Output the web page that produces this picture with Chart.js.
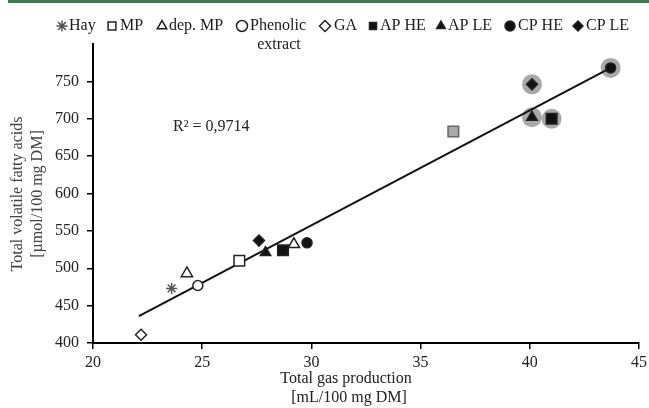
<!DOCTYPE html>
<html>
<head>
<meta charset="utf-8">
<script src="https://cdn.jsdelivr.net/npm/chart.js@4.4.1/dist/chart.umd.min.js"></script>
<style>
  html, body { margin: 0; padding: 0; background: #fff; }
  #wrap { width: 649px; height: 408px; }
</style>
</head>
<body>
<div id="wrap"><canvas id="chartVfa" width="649" height="408"></canvas></div>
<script>
// series
const seriesNames = ['Hay', 'MP', 'dep. MP', 'Phenolic extract', 'GA', 'AP HE', 'AP LE', 'CP HE', 'CP LE'];
const gasProd = [[23.6], [26.7, 36.5], [24.3, 29.2], [24.8], [22.2], [28.7, 41.0], [27.9, 40.1], [29.8, 43.7], [27.6, 40.1]];
const vfa = [[473], [510, 683], [493, 532], [477], [411], [524, 700], [521, 702], [534, 768], [537, 746]];
const glow = [[0], [0, 2], [0, 0], [0], [0], [0, 1], [0, 1], [0, 1], [0, 1]]; // 1 = grey halo, 2 = grey marker
const trendX = [22.1, 43.7];
const trendY = [436, 768];
const xTicks = [20, 25, 30, 35, 40, 45];
const yTicks = [400, 450, 500, 550, 600, 650, 700, 750];
const r2Text = 'R² = 0,9714';

const FONT = '"Liberation Serif", "DejaVu Serif", serif';

// marker look per series
const markerStyle = ['star', 'rect', 'triangle', 'circle', 'rectRot', 'rect', 'triangle', 'circle', 'rectRot'];
const markerFilled = [false, false, false, false, false, true, true, true, true];
const markerRadius = [5.5, 7.5, 6.5, 5, 5.5, 7.5, 6, 5, 5.5];

const datasets = [];

seriesNames.forEach((name, i) => {
  const pts = gasProd[i].map((x, k) => ({ x: x, y: vfa[i][k] }));
  const fill = gasProd[i].map((x, k) => glow[i][k] == 2 ? '#a8a8a8' : (markerFilled[i] ? '#111' : '#fff'));
  const border = gasProd[i].map((x, k) => glow[i][k] == 2 ? '#666' : (i == 0 ? '#555' : '#222'));
  datasets.push({
    type: 'scatter',
    label: name,
    data: pts,
    pointStyle: markerStyle[i],
    pointRadius: markerRadius[i],
    pointBackgroundColor: fill,
    pointBorderColor: border,
    pointBorderWidth: 1.5,
    order: 1
  });
});

// grey halos behind the highlighted points
const haloPts = [];
seriesNames.forEach((name, i) => {
  gasProd[i].forEach((x, k) => {
    if (glow[i][k] == 1) haloPts.push({ x: x, y: vfa[i][k] });
  });
});
datasets.push({
  type: 'scatter',
  label: 'halo',
  data: haloPts,
  pointStyle: 'circle',
  pointRadius: 10,
  pointBorderWidth: 0,
  pointBackgroundColor: 'rgba(140,140,140,0.75)',
  order: 3
});

datasets.push({
  type: 'line',
  label: 'trend',
  data: trendX.map((x, k) => ({ x: x, y: trendY[k] })),
  borderColor: '#111',
  borderWidth: 2,
  pointRadius: 0,
  fill: false,
  order: 2
});

// legend, axis titles, R² and the green rule at the top
const decorations = {
  id: 'decorations',
  afterDraw(chart) {
    const ctx = chart.ctx;
    ctx.save();

    ctx.fillStyle = '#3b7d50';
    ctx.fillRect(8, 0, 641, 3);

    // legend
    const legendPos = [[62, 69], [112, 120], [162, 169], [242, 249], [325, 334], [373, 380], [441, 448], [510, 518], [578, 586]];
    const ly = 26;
    ctx.font = '16px ' + FONT;
    ctx.textBaseline = 'middle';
    seriesNames.forEach((name, i) => {
      const [mx, tx] = legendPos[i];
      ctx.fillStyle = markerFilled[i] ? '#111' : '#fff';
      ctx.strokeStyle = i == 0 ? '#555' : '#222';
      ctx.lineWidth = 1.5;
      Chart.helpers.drawPoint(ctx, { pointStyle: markerStyle[i], radius: markerFilled[i] ? 5 : 5.5, rotation: 0, borderWidth: 1.5 }, mx, ly);
      ctx.fillStyle = '#1a1a1a';
      if (name == 'Phenolic extract') {
        ctx.textAlign = 'center';
        ctx.fillText('Phenolic', 278, ly);
        ctx.fillText('extract', 279, ly + 19);
      } else {
        ctx.textAlign = 'left';
        ctx.fillText(name, tx, ly);
      }
    });

    // R²
    ctx.textAlign = 'left';
    ctx.fillStyle = '#222';
    ctx.fillText(r2Text, 173, 127);

    // x title
    ctx.textAlign = 'center';
    ctx.fillStyle = '#222';
    ctx.fillText('Total gas production', 346, 379);
    ctx.fillText('[mL/100 mg DM]', 349, 398);

    // y title
    ctx.translate(0, 194);
    ctx.rotate(-Math.PI / 2);
    ctx.fillStyle = '#444';
    ctx.fillText('Total volatile fatty acids', 0, 18);
    ctx.fillText('[µmol/100 mg DM]', 0, 38);

    ctx.restore();
  }
};

new Chart('chartVfa', {
  data: { datasets: datasets },
  options: {
    responsive: false,
    animation: false,
    layout: { padding: { top: 44, right: 0, left: 0, bottom: 0 } },
    plugins: {
      legend: { display: false },
      tooltip: { enabled: false }
    },
    scales: {
      x: {
        type: 'linear',
        min: 20,
        max: 45,
        afterBuildTicks: (s) => { s.ticks = xTicks.map(v => ({ value: v })); },
        afterFit: (s) => { s.height = 65; s.paddingRight = 5; s.paddingLeft = 0; },
        grid: { drawOnChartArea: false, drawTicks: true, tickLength: 6, color: '#000', lineWidth: 1.5 },
        border: { color: '#000', width: 2 },
        ticks: { font: { family: FONT, size: 16 }, color: '#222', padding: 4, maxRotation: 0 }
      },
      y: {
        type: 'linear',
        min: 400,
        max: 800,
        afterBuildTicks: (s) => { s.ticks = yTicks.map(v => ({ value: v })); },
        afterFit: (s) => { s.width = 93; },
        grid: { drawOnChartArea: false, drawTicks: true, tickLength: 6, color: '#000', lineWidth: 1.5 },
        border: { color: '#000', width: 2 },
        ticks: { font: { family: FONT, size: 16 }, color: '#222', padding: 8 }
      }
    }
  },
  plugins: [decorations]
});
</script>
</body>
</html>
